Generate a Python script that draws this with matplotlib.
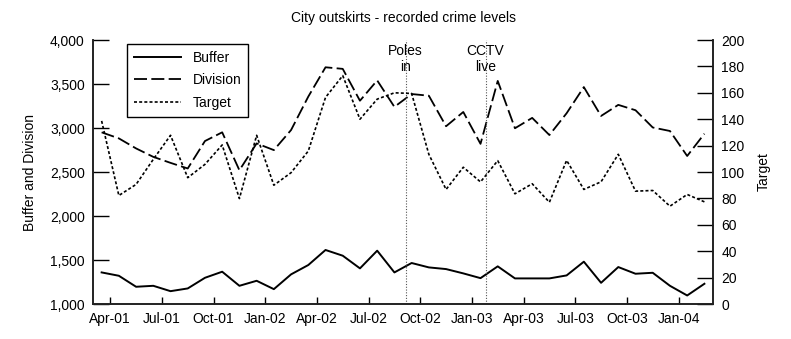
import numpy as np
import matplotlib.pyplot as plt
from matplotlib.ticker import FuncFormatter

plt.rcParams['font.family'] = ['Liberation Sans', 'DejaVu Sans']
plt.rcParams['font.size'] = 10

# monthly recorded crime, Mar-01 .. Feb-04
buffer = [1359, 1321, 1196, 1207, 1146, 1177, 1298, 1367, 1207, 1264, 1169, 1337,
          1443, 1614, 1549, 1405, 1606, 1359, 1466, 1416, 1397, 1348, 1294, 1428,
          1291, 1291, 1291, 1325, 1481, 1241, 1420, 1344, 1355, 1207, 1097, 1230]
division = [2951, 2882, 2768, 2672, 2604, 2540, 2852, 2951, 2520, 2825, 2749, 2977,
            3357, 3690, 3672, 3310, 3541, 3240, 3386, 3367, 3020, 3182, 2820, 3535,
            2997, 3115, 2920, 3168, 3465, 3137, 3263, 3202, 3006, 2966, 2682, 2935]
target = [138.7, 82.2, 90.6, 109.6, 127.8, 95.7, 105.8, 120.5, 79.9, 127.8, 90.0, 99.5,
          115.9, 156.5, 173.0, 140.0, 155.2, 160.0, 159.5, 113.4, 86.8, 103.6, 92.5, 108.6,
          83.5, 91.1, 77.1, 108.8, 86.8, 92.6, 113.4, 85.5, 86.0, 74.1, 83.0, 77.4]

tick_labels = ['Apr-01', 'Jul-01', 'Oct-01', 'Jan-02', 'Apr-02', 'Jul-02',
               'Oct-02', 'Jan-03', 'Apr-03', 'Jul-03', 'Oct-03', 'Jan-04']

# events (month index from Mar-01, fractional = day within month)
events = ['Poles\nin', 'CCTV\nlive']
event_pos = [18.15, 22.79]

n = len(buffer)
x = np.arange(n) + 0.5  # points sit mid-month, ticks at month start

fig = plt.figure(figsize=(7.91, 3.39), dpi=100)
ax = fig.add_axes([0.1176, 0.1032, 0.7838, 0.7788])
ax2 = ax.twinx()

l1, = ax.plot(x, buffer, color='black', lw=1.4, label='Buffer')
l2, = ax.plot(x, division, color='black', lw=1.3, ls=(0, (7.2, 2.4)), label='Division')
l3, = ax2.plot(x, target, color='black', lw=1.2, ls=(0, (1.8, 1.3)), label='Target')

for pos, txt in zip(event_pos, events):
    ax.axvline(pos, color='#555555', lw=0.8, ls=(0, (1, 1.5)))
    ax.text(pos, 3950, txt, ha='center', va='top', linespacing=1.1)

ax.set_xlim(0, n)
ax.set_ylim(1000, 4000)
ax2.set_ylim(0, 200)
ax.set_yticks(np.arange(1000, 4001, 500))
ax2.set_yticks(np.arange(0, 201, 20))
ax.yaxis.set_major_formatter(FuncFormatter(lambda v, p: '{:,.0f}'.format(v)))
ax.set_xticks(np.arange(1, n, 3))
ax.set_xticklabels(tick_labels)

for a in (ax, ax2):
    a.spines['top'].set_visible(False)
    for s in ('left', 'right', 'bottom'):
        a.spines[s].set_color('#222222')
        a.spines[s].set_linewidth(1.2)
ax.tick_params(axis='y', direction='in', length=11.5, width=1, pad=6)
ax2.tick_params(axis='y', direction='in', length=11.5, width=1, pad=6)
ax.tick_params(axis='x', direction='in', length=5, width=1, pad=6)

ax.set_ylabel('Buffer and Division', labelpad=9)
ax2.set_ylabel('Target', labelpad=9)
ax.set_title('City outskirts - recorded crime levels', fontsize=10, pad=13)

leg = ax2.legend(handles=[l1, l2, l3], loc='upper left', bbox_to_anchor=(0.055, 0.985),
                 borderaxespad=0, fancybox=False, framealpha=1, edgecolor='black',
                 handlelength=3.4, labelspacing=0.6, borderpad=0.5)
leg.get_frame().set_linewidth(1.0)

fig.savefig('out.png', dpi=100)
